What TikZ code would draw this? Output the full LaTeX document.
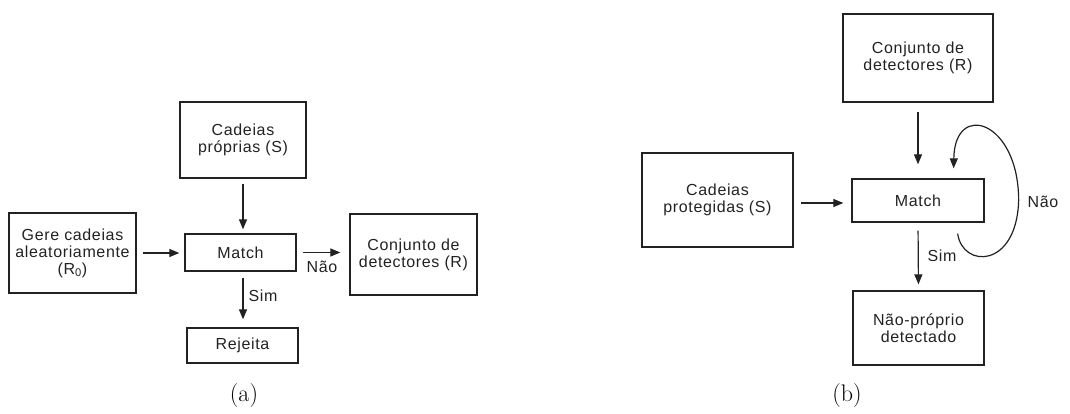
\documentclass[tikz,border=0pt]{standalone}
\usepackage{fontspec}
\newfontfamily\boxfont{Liberation Sans}[LetterSpace=4]
\usetikzlibrary{arrows.meta}
\definecolor{ink}{HTML}{222222}
\begin{document}
\begin{tikzpicture}[x=1pt,y=-1pt,
  blk/.style={draw=ink,line width=1.3pt,align=center,inner sep=0pt,
    font=\boxfont\fontsize{16}{17}\selectfont,text=ink},
  arr/.style={draw=ink,line width=1.2pt,-{Triangle[length=10pt,width=8pt]}},
  lbl/.style={font=\boxfont\fontsize{16}{17}\selectfont,text=ink,inner sep=0pt},
  captext/.style={font=\fontsize{24}{28}\selectfont,inner sep=0pt}]
\useasboundingbox (0,0) rectangle (1070,414);

% (a) generation of the detector set
\node[blk,minimum width=126pt,minimum height=76pt] (s1) at (243,140) {Cadeias\\próprias (S)};
\node[blk,minimum width=111pt,minimum height=37pt] (m1) at (240.5,252.5) {Match};
\node[blk,minimum width=127pt,minimum height=80pt] (g1) at (72.5,253) {Gere cadeias\\aleatoriamente\\(R\textsubscript{0})};
\node[blk,minimum width=127pt,minimum height=81pt] (r1) at (413.5,254.5) {Conjunto de\\detectores (R)};
\node[blk,minimum width=111pt,minimum height=35pt] (j1) at (242.5,345.5) {Rejeita};

\draw[arr,shorten <=5pt,shorten >=4pt] (s1.south) -- (s1.south |- m1.north);
\draw[arr,shorten <=6pt,shorten >=5pt] (g1.east) -- (g1.east -| m1.west);
\draw[arr,shorten <=6pt,shorten >=9pt] (m1.east) -- (m1.east -| r1.west);
\draw[arr,shorten <=6pt,shorten >=8pt] (s1.south |- m1.south) -- (s1.south |- j1.north);
\node[lbl] (na1) at (322,267) {Não};
\node[lbl] (si1) at (263,296) {Sim};
\node[captext] (ca) at (244,396) {(a)};

% (b) monitoring with the detector set
\node[blk,minimum width=150pt,minimum height=88pt] (r2) at (918,58) {Conjunto de\\detectores (R)};
\node[blk,minimum width=132pt,minimum height=43pt] (m2) at (918,200.5) {Match};
\node[blk,minimum width=151pt,minimum height=94pt] (c2) at (717.5,200) {Cadeias\\protegidas (S)};
\node[blk,minimum width=131pt,minimum height=74pt] (n2) at (918.5,328) {Não-próprio\\detectado};

\draw[arr,shorten <=9pt,shorten >=14pt] (r2.south) -- (m2.north);
\draw[arr,shorten <=7pt,shorten >=8pt] ([yshift=-3pt]c2.east) -- ([yshift=-3pt]c2.east -| m2.west);
\draw[arr,shorten <=8pt,shorten >=6pt] (m2.south) -- (n2.north);
\coordinate (loopR) at ([xshift=34pt]m2.east);
\draw[arr] ([xshift=-27pt,yshift=-11pt]m2.south east)
  .. controls +(5,35) and +(-2,68) .. (loopR)
  .. controls +(0,-80) and +(1,-68) .. ([xshift=-31pt,yshift=10pt]m2.north east);
\node[lbl] (na2) at (1043,202) {Não};
\node[lbl] (si2) at (942,256) {Sim};
\node[captext] (cb) at (847,396) {(b)};
\end{tikzpicture}
\end{document}
